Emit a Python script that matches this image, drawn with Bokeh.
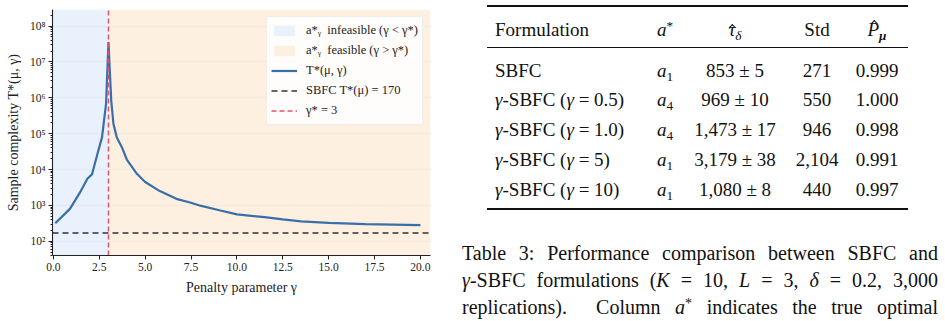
import numpy as np
from bokeh.plotting import figure
from bokeh.models import (Range1d, FixedTicker, CustomJSTickFormatter, PrintfTickFormatter,
                          Legend, LegendItem, Div)
from bokeh.layouts import row
from bokeh.embed import file_html
from bokeh.resources import INLINE

# ---------------- data ----------------
gamma = [0.1, 0.9, 1.45, 1.85, 2.1, 2.45, 2.65, 2.87, 3.0, 3.15, 3.27, 3.45, 3.73,
         4.0, 4.55, 5.0, 5.8, 6.7, 7.5, 8.0, 9.1, 10.0, 11.5, 12.5, 13.5, 15.0, 17.0, 20.0]
t_star = [318, 800, 2300, 5500, 7300, 34000, 80000, 690000, 3.6e7, 850000, 190000, 80000, 42000,
          19000, 7600, 4500, 2500, 1520, 1180, 980, 720, 560, 470, 405, 360, 326, 299, 280]
sbfc_T = 170
gamma_star = 3

x_ticks = [0.0, 2.5, 5.0, 7.5, 10.0, 12.5, 15.0, 17.5, 20.0]
y_decades = [2, 3, 4, 5, 6, 7, 8]

legend_labels = ["a*ᵧ  infeasible (γ < γ*)", "a*ᵧ  feasible (γ > γ*)", "T*(μ, γ)",
                 "SBFC T*(μ) = 170", "γ* = 3"]

# table
def hat(letter, top_px, left_pct):
    # letter with a circumflex drawn as a small CSS chevron (not a text glyph)
    return ("<span style='display:inline-block;position:relative;'>" + letter +
            f"<span style='position:absolute;left:{left_pct}%;margin-left:-2.6px;top:{top_px}px;"
            "width:4.6px;height:4.6px;border-top:1.2px solid #111;border-left:1.2px solid #111;"
            "transform:rotate(45deg);'></span></span>")

header = ["Formulation", "<i>a</i><sup>*</sup>",
          "<i>" + hat("τ", 7, 58) + "</i><sub><i>δ</i></sub>", "Std",
          "<i>" + hat("P", 3, 60) + "</i><sub><b><i>μ</i></b></sub>"]
formulations = ["SBFC", "γ-SBFC (γ = 0.5)", "γ-SBFC (γ = 1.0)", "γ-SBFC (γ = 5)", "γ-SBFC (γ = 10)"]
optimal_arm = ["1", "4", "4", "1", "1"]
tau_hat = ["853 ± 5", "969 ± 10", "1,473 ± 17", "3,179 ± 38", "1,080 ± 8"]
std_vals = ["271", "550", "946", "2,104", "440"]
p_hat = ["0.999", "1.000", "0.998", "0.991", "0.997"]

caption_lines = [
    "Table 3: Performance comparison between SBFC and",
    "<i>γ</i>-SBFC formulations (<i>K</i> = 10, <i>L</i> = 3, <i>δ</i> = 0.2, 3,000",
    "replications).&nbsp; Column <i>a</i><sup>*</sup> indicates the true optimal",
]

# ---------------- plot ----------------
X_LO, X_HI = -0.05, 20.55
Y_LO, Y_HI = 40, 2.9e8
SERIF = "Liberation Serif"

p = figure(width=445, height=321, frame_width=378, frame_height=246,
           x_range=Range1d(X_LO, X_HI), y_range=Range1d(Y_LO, Y_HI), y_axis_type="log",
           output_backend="svg", toolbar_location=None,
           min_border_left=52, min_border_right=15, min_border_top=9, min_border_bottom=66)
p.outline_line_color = None
p.background_fill_color = "white"

r_inf = p.quad(left=[X_LO], right=[gamma_star], bottom=[Y_LO], top=[Y_HI],
               fill_color="#e9f1fc", line_color=None, level="image")
r_fea = p.quad(left=[gamma_star], right=[X_HI], bottom=[Y_LO], top=[Y_HI],
               fill_color="#fdf0e1", line_color=None, level="image")

r_line = p.line(gamma, t_star, line_color="#3a6ea8", line_width=2.2)
r_sbfc = p.line([X_LO, X_HI], [sbfc_T, sbfc_T], line_color="#333333", line_dash="6 4", line_width=1.5)
r_gs = p.line([gamma_star, gamma_star], [Y_LO, Y_HI], line_color="#e0566f", line_dash="5 3", line_width=1.5)

p.xaxis.ticker = FixedTicker(ticks=x_ticks)
p.xaxis.formatter = PrintfTickFormatter(format="%.1f")
y_major = [10.0 ** d for d in y_decades]
y_minor = [k * 10.0 ** d for d in [1] + y_decades for k in range(2, 10)]
p.yaxis.ticker = FixedTicker(ticks=y_major, minor_ticks=y_minor)
p.yaxis.formatter = CustomJSTickFormatter(code="""
const s = {"-":"\u207b","0":"\u2070","1":"\u00b9","2":"\u00b2","3":"\u00b3","4":"\u2074",
           "5":"\u2075","6":"\u2076","7":"\u2077","8":"\u2078","9":"\u2079"};
const e = Math.round(Math.log10(tick));
return "10" + String(e).split("").map(c => s[c]).join("");
""")

for ax in (p.xaxis[0], p.yaxis[0]):
    ax.axis_line_color = "#222222"
    ax.axis_line_width = 1.1
    ax.major_tick_line_color = "#222222"
    ax.major_tick_in = 0
    ax.major_tick_out = 4
    ax.minor_tick_in = 0
    ax.minor_tick_out = 2
    ax.minor_tick_line_color = "#222222"
    ax.major_label_text_font = SERIF
    ax.major_label_text_font_size = "11.5px"
    ax.major_label_text_color = "#222222"
    ax.major_label_standoff = 3
    ax.axis_label_text_font = SERIF
    ax.axis_label_text_font_size = "14px"
    ax.axis_label_text_font_style = "normal"
    ax.axis_label_text_color = "#222222"
    ax.axis_label_standoff = 6
p.xaxis.minor_tick_line_color = None
p.xaxis.axis_label = "Penalty parameter γ"
p.yaxis.axis_label = "Sample complexity T*(μ, γ)"

p.xgrid.visible = False
p.ygrid.grid_line_color = "#d8d8d8"
p.ygrid.grid_line_alpha = 0.6
p.ygrid.grid_line_dash = "2 2"

legend = Legend(items=[LegendItem(label=legend_labels[i], renderers=[r])
                       for i, r in enumerate([r_inf, r_fea, r_line, r_sbfc, r_gs])],
                location="top_right", margin=7, padding=4, spacing=1,
                label_height=19, glyph_height=13, glyph_width=26, label_standoff=9,
                label_text_font=SERIF, label_text_font_size="12.5px", label_text_color="#222222",
                background_fill_color="white", background_fill_alpha=0.85,
                border_line_color="#e0e0e0", border_line_alpha=0.5)
p.add_layout(legend)

# ---------------- table + caption ----------------
def it_gamma(s):
    return s.replace("γ", "<i>γ</i>")

SUP = "font-size:0.7em;vertical-align:0.45em;line-height:0;"
SUB = "font-size:0.7em;vertical-align:-0.3em;line-height:0;"

def fix(html):
    return html.replace("<sup>", f"<span style='{SUP}'>").replace("</sup>", "</span>") \
               .replace("<sub>", f"<span style='{SUB}'>").replace("</sub>", "</span>")

col_pos = [(50, "left"), (220, "center"), (290, "center"), (372, "center"), (432, "center")]

def cell(html, col, center_y):
    x, align = col_pos[col]
    top = center_y - 12
    if align == "left":
        return (f"<div style='position:absolute;left:{x}px;top:{top}px;line-height:24px;"
                f"white-space:nowrap;'>{fix(html)}</div>")
    return (f"<div style='position:absolute;left:{x-70}px;width:140px;text-align:center;top:{top}px;"
            f"line-height:24px;white-space:nowrap;'>{fix(html)}</div>")

parts = []
parts.append("<div style='position:absolute;left:42px;width:421px;top:5px;height:2px;background:#111;'></div>")
parts.append("<div style='position:absolute;left:42px;width:421px;top:47px;height:1px;background:#111;'></div>")
parts.append("<div style='position:absolute;left:42px;width:421px;top:208px;height:2px;background:#111;'></div>")
for j, h in enumerate(header):
    parts.append(cell(h, j, 30))
row_c0, row_h = 70.5, 29.75
for i in range(len(formulations)):
    cy = row_c0 + i * row_h
    vals = [it_gamma(formulations[i]), f"<i>a</i><sub>{optimal_arm[i]}</sub>",
            tau_hat[i], std_vals[i], p_hat[i]]
    for j, v in enumerate(vals):
        parts.append(cell(v, j, cy))
cap_c0, cap_h = 253, 27
for i, line in enumerate(caption_lines):
    top = cap_c0 + i * cap_h - 13.5
    parts.append(f"<div style='position:absolute;left:17px;width:476px;top:{top}px;line-height:27px;"
                 f"font-size:20px;text-align:justify;text-align-last:justify;'>{fix(line)}</div>")

html = ("<div style=\"position:relative;width:500px;height:321px;overflow:hidden;"
        "font-family:'Liberation Serif',serif;font-size:19px;color:#111;\">"
        + "".join(parts) + "</div>")

div = Div(text=html, width=500, height=321, margin=0)
p.margin = 0

layout = row(p, div, spacing=0)
open("out.html", "w").write(file_html(layout, INLINE))
